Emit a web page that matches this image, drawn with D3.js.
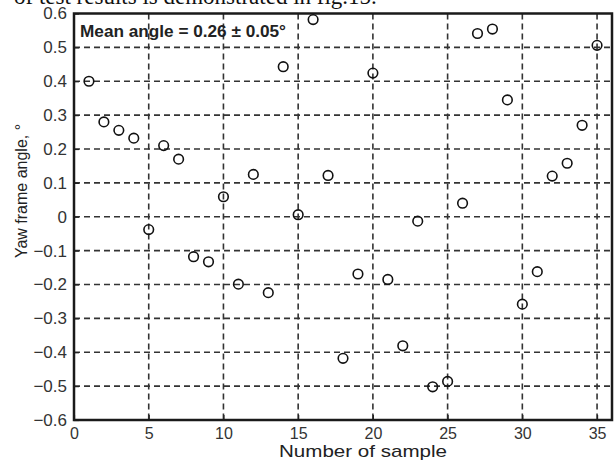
<!DOCTYPE html>
<html>
<head>
<meta charset="utf-8">
<script src="https://cdn.jsdelivr.net/npm/d3@7"></script>
<style>
  body { margin: 0; background: #fff; }
  svg { display: block; }
</style>
</head>
<body>
<script>
'use strict';

// sample numbers and yaw angles (deg)
const samples = [1, 2, 3, 4, 5, 6, 7, 8, 9, 10, 11, 12, 13, 14, 15, 16, 17, 18,
  19, 20, 21, 22, 23, 24, 25, 26, 27, 28, 29, 30, 31, 32, 33, 34, 35];
const yawAngles = [0.40, 0.28, 0.255, 0.232, -0.038, 0.21, 0.17, -0.118, -0.133, 0.059,
  -0.199, 0.125, -0.224, 0.443, 0.006, 0.582, 0.122, -0.418, -0.169, 0.424,
  -0.185, -0.381, -0.013, -0.502, -0.486, 0.04, 0.541, 0.554, 0.345, -0.258,
  -0.162, 0.12, 0.158, 0.27, 0.506];
const xTicks = [0, 5, 10, 15, 20, 25, 30, 35];
const yTicks = [-0.6, -0.5, -0.4, -0.3, -0.2, -0.1, 0, 0.1, 0.2, 0.3, 0.4, 0.5, 0.6];

(function() {
  const W = 616, H = 464;
  const plotL = 74, plotR = 612, plotT = 13.5, plotB = 420;
  const sans = '"Liberation Sans", Arial, sans-serif';

  const svg = d3.select('body').append('svg')
    .attr('width', W)
    .attr('height', H);

  const x = d3.scaleLinear().domain([0, 36]).range([plotL, plotR]);
  const y = d3.scaleLinear().domain([-0.6, 0.6]).range([plotB, plotT]);

  // clipped caption line from the page above the figure
  svg.append('text')
    .attr('x', 14)
    .attr('y', 4)
    .style('font-family', '"Liberation Serif", "Times New Roman", serif')
    .style('font-size', '23px')
    .attr('fill', '#111')
    .text('of test results is demonstrated in fig.15.');

  // dashed grid
  svg.append('g').selectAll('line')
    .data(xTicks.filter(d => d > 0))
    .enter().append('line')
    .attr('x1', d => x(d)).attr('x2', d => x(d))
    .attr('y1', plotT).attr('y2', plotB)
    .attr('stroke', '#333')
    .attr('stroke-width', 1.6)
    .attr('stroke-dasharray', '6,4');

  svg.append('g').selectAll('line')
    .data(yTicks.filter(d => d > -0.6 && d < 0.6))
    .enter().append('line')
    .attr('x1', plotL).attr('x2', plotR)
    .attr('y1', d => y(d)).attr('y2', d => y(d))
    .attr('stroke', '#333')
    .attr('stroke-width', 1.6)
    .attr('stroke-dasharray', '6,4');

  // axes with inward ticks
  const xAxis = d3.axisBottom(x).tickValues(xTicks).tickSizeInner(-5).tickSizeOuter(0)
    .tickPadding(8).tickFormat(d3.format('d'));
  const yAxis = d3.axisLeft(y).tickValues(yTicks).tickSizeInner(-5).tickSizeOuter(0)
    .tickPadding(7).tickFormat(d => d === 0 ? '0' : d3.format('.1f')(d));

  const gx = svg.append('g')
    .attr('transform', 'translate(0,' + plotB + ')')
    .call(xAxis);
  const gy = svg.append('g')
    .attr('transform', 'translate(' + plotL + ',0)')
    .call(yAxis);

  [gx, gy].forEach(g => {
    g.select('.domain').remove();
    g.selectAll('line').attr('stroke', '#222').attr('stroke-width', 1.2);
    g.selectAll('text')
      .style('font-family', sans)
      .attr('fill', '#333');
  });
  gx.selectAll('text').style('font-size', '16px');
  gy.selectAll('text').style('font-size', '17px');

  // frame
  svg.append('rect')
    .attr('x', plotL).attr('y', plotT)
    .attr('width', plotR - plotL).attr('height', plotB - plotT)
    .attr('fill', 'none')
    .attr('stroke', '#1a1a1a')
    .attr('stroke-width', 2.5);

  // data points
  svg.append('g').selectAll('circle')
    .data(samples)
    .enter().append('circle')
    .attr('cx', d => x(d))
    .attr('cy', (d, i) => y(yawAngles[i]))
    .attr('r', 4.8)
    .attr('fill', 'none')
    .attr('stroke', '#111')
    .attr('stroke-width', 1.6);

  // annotation
  svg.append('text')
    .attr('x', 80)
    .attr('y', 37)
    .attr('textLength', 206)
    .attr('lengthAdjust', 'spacingAndGlyphs')
    .style('font-family', sans)
    .style('font-size', '16.5px')
    .style('font-weight', 'bold')
    .attr('fill', '#222')
    .text('Mean angle = 0.26 ± 0.05°');

  // axis labels
  svg.append('text')
    .attr('x', 279)
    .attr('y', 457)
    .attr('textLength', 168)
    .attr('lengthAdjust', 'spacingAndGlyphs')
    .style('font-family', sans)
    .style('font-size', '17px')
    .attr('fill', '#222')
    .text('Number of sample');

  svg.append('text')
    .attr('transform', 'translate(27,191)rotate(-90)')
    .attr('text-anchor', 'middle')
    .style('font-family', sans)
    .style('font-size', '16px')
    .attr('fill', '#222')
    .text('Yaw frame angle, °');
})();
</script>
</body>
</html>
